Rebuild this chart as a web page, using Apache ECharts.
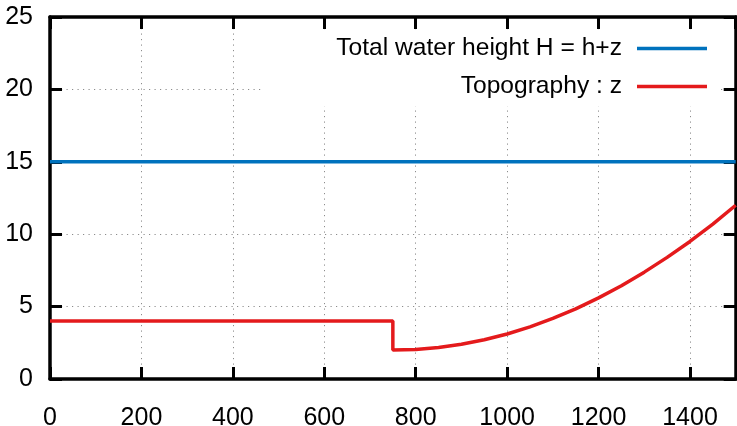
<!DOCTYPE html>
<html>
<head>
<meta charset="utf-8">
<script src="https://cdn.jsdelivr.net/npm/echarts@6/dist/echarts.min.js"></script>
<style>
  html, body { margin: 0; padding: 0; background: #fff; }
  #chart { width: 737px; height: 426px; }
</style>
</head>
<body>
<div id="chart"></div>
<script>
// Free surface: flat total water height
const waterX = [0, 1500];
const waterH = [15, 15];

// Topography: plateau, step down at x = 750, then rising bowl
const topoX = [0, 750, 750, 800, 850, 900, 950, 1000, 1050, 1100, 1150, 1200, 1250, 1300, 1350, 1400, 1450, 1500];
const topoZ = [4, 4, 2, 2.04, 2.18, 2.4, 2.71, 3.11, 3.6, 4.18, 4.84, 5.6, 6.44, 7.38, 8.4, 9.5, 10.7, 12];

const xTicks = { min: 0, max: 1500, interval: 200 };
const yTicks = { min: 0, max: 25, interval: 5 };

const seriesNames = ['Total water height H = h+z', 'Topography : z'];
const seriesColors = ['#0072bd', '#e41a1c'];

const pairs = (xs, ys) => xs.map((x, i) => [x, ys[i]]);

const FONT = 'Liberation Sans, Arial, Helvetica, sans-serif';
const border = { show: true, onZero: false, lineStyle: { color: '#000', width: 3.5 } };
const tick = { show: true, inside: true, length: 12, lineStyle: { color: '#000', width: 3 } };
const dotted = { show: true, lineStyle: { color: '#8c8c8c', width: 1, type: [1.2, 4.3] } };

const chart = echarts.init(document.getElementById('chart'), null, { renderer: 'canvas' });
chart.setOption({
  animation: false,
  backgroundColor: '#fff',
  grid: { left: 50, right: 1.3, top: 17, bottom: 47, containLabel: false, outerBoundsMode: 'none' },
  legend: {
    orient: 'vertical',
    align: 'right',
    right: 16,
    top: 31,
    padding: [5, 14, 7, 75],
    backgroundColor: '#fff',
    icon: 'rect',
    itemWidth: 70,
    itemHeight: 3.5,
    itemGap: 13,
    selectedMode: false,
    data: seriesNames,
    textStyle: { fontFamily: FONT, fontSize: 24.6, lineHeight: 24, color: '#000', padding: [0, 10, 0, 0] }
  },
  xAxis: [
    {
      type: 'value', position: 'bottom',
      min: xTicks.min, max: xTicks.max, interval: xTicks.interval,
      axisLine: border, axisTick: tick, splitLine: dotted,
      axisLabel: { show: true, margin: 27, fontFamily: FONT, fontSize: 25, color: '#000', showMaxLabel: false,
        formatter: v => String(v) }
    },
    {
      type: 'value', position: 'top',
      min: xTicks.min, max: xTicks.max, interval: xTicks.interval,
      axisLine: border, axisTick: tick, splitLine: { show: false }, axisLabel: { show: false }
    }
  ],
  yAxis: [
    {
      type: 'value', position: 'left',
      min: yTicks.min, max: yTicks.max, interval: yTicks.interval,
      axisLine: border, axisTick: tick, splitLine: dotted,
      axisLabel: { show: true, margin: 17, fontFamily: FONT, fontSize: 25, color: '#000' }
    },
    {
      type: 'value', position: 'right',
      min: yTicks.min, max: yTicks.max, interval: yTicks.interval,
      axisLine: border, axisTick: tick, splitLine: { show: false }, axisLabel: { show: false }
    }
  ],
  series: [
    {
      name: seriesNames[0], type: 'line', symbol: 'none',
      xAxisIndex: 0, yAxisIndex: 0,
      lineStyle: { color: seriesColors[0], width: 3.5 }, itemStyle: { color: seriesColors[0] },
      data: pairs(waterX, waterH)
    },
    {
      name: seriesNames[1], type: 'line', symbol: 'none',
      xAxisIndex: 0, yAxisIndex: 0,
      lineStyle: { color: seriesColors[1], width: 3.5 }, itemStyle: { color: seriesColors[1] },
      data: pairs(topoX, topoZ)
    }
  ]
});
</script>
</body>
</html>
